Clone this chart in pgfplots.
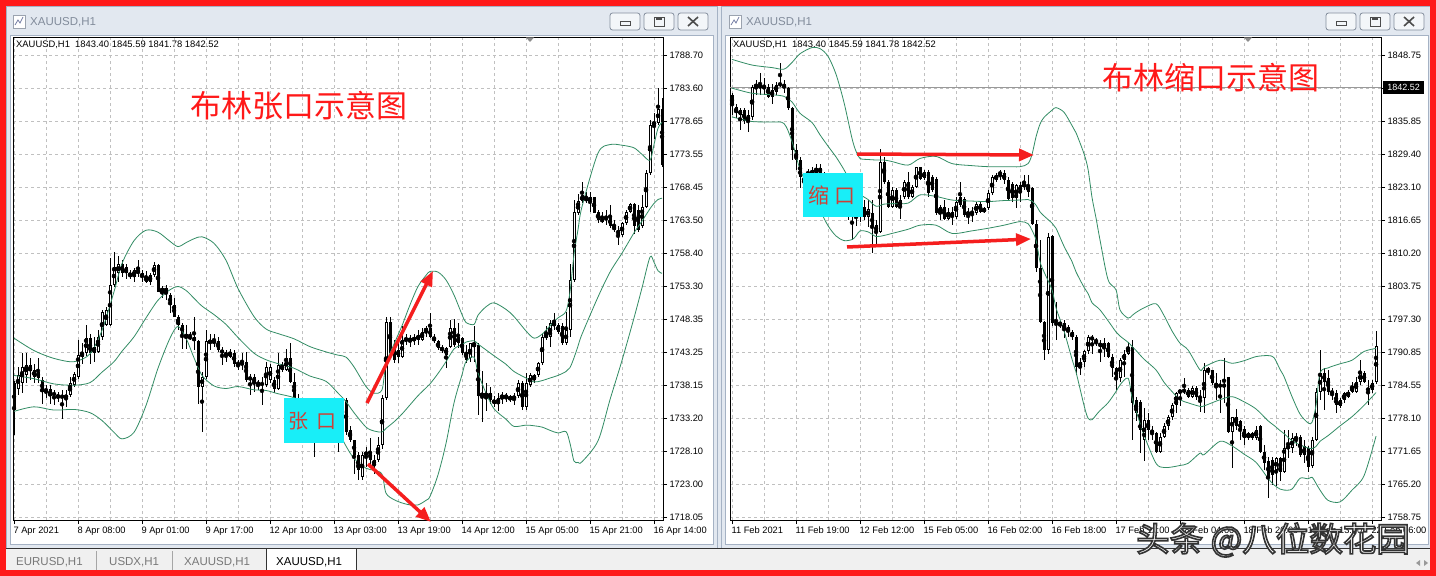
\documentclass[border=0pt]{standalone}
\usepackage{fontspec}
\setmainfont{Liberation Sans}
\newfontfamily\cjk{Noto Sans CJK SC}
\usepackage{pgfplots}
\pgfplotsset{compat=1.18}
\usepackage{pgfplotstable}
\usetikzlibrary{arrows.meta}
\newcommand{\fs}[1]{\fontsize{#1bp}{#1bp}\selectfont}
\definecolor{redb}{RGB}{255,25,25}
\definecolor{titlebg}{RGB}{226,232,240}
\definecolor{winborder}{RGB}{165,178,196}
\definecolor{titletext}{RGB}{130,140,155}
\definecolor{gridgray}{RGB}{192,192,192}
\definecolor{bandgreen}{RGB}{50,140,100}
\definecolor{cyanbox}{RGB}{24,238,248}
\definecolor{boxtext}{RGB}{205,65,55}
\definecolor{arrowred}{RGB}{245,30,30}
\definecolor{tabbg}{RGB}{240,240,240}
\definecolor{tabtext}{RGB}{120,120,120}

\pgfplotstableread{
i o h l c
0 1738.5 1738.8 1730.6 1734.4
1 1737.7 1741.0 1736.7 1739.8
2 1738.5 1743.1 1737.0 1741.0
3 1739.8 1743.1 1738.5 1741.3
4 1741.3 1742.3 1739.0 1740.3
5 1740.5 1741.5 1738.5 1739.5
6 1740.3 1742.3 1738.5 1739.3
7 1739.0 1739.5 1735.4 1737.2
8 1737.7 1738.2 1736.2 1737.2
9 1737.6 1738.2 1735.4 1736.5
10 1737.0 1737.5 1735.2 1736.7
11 1736.3 1737.2 1735.7 1736.7
12 1736.7 1737.5 1733.1 1736.2
13 1736.2 1737.5 1734.9 1736.7
14 1736.7 1739.5 1736.4 1738.5
15 1738.2 1740.3 1738.0 1740.0
16 1739.5 1745.1 1739.2 1742.8
17 1742.6 1744.6 1741.5 1743.1
18 1743.1 1747.4 1742.6 1745.4
19 1745.4 1746.1 1741.5 1743.1
20 1743.1 1745.6 1741.8 1744.1
21 1743.3 1746.6 1743.1 1745.6
22 1745.6 1749.7 1745.1 1749.4
23 1747.4 1750.2 1747.2 1749.7
24 1747.4 1757.6 1747.2 1753.5
25 1753.5 1758.6 1753.3 1756.3
26 1755.3 1757.9 1754.0 1756.8
27 1756.8 1757.3 1754.8 1755.3
28 1756.3 1756.8 1754.5 1755.3
29 1755.3 1755.8 1754.5 1754.8
30 1754.8 1756.1 1754.0 1755.8
31 1755.3 1757.3 1754.8 1755.8
32 1755.3 1755.8 1754.0 1754.8
33 1754.8 1755.6 1753.8 1754.0
34 1754.0 1755.3 1753.5 1755.1
35 1755.1 1757.1 1754.8 1756.6
36 1756.6 1756.8 1752.5 1752.5
37 1752.5 1753.3 1751.5 1753.0
38 1752.5 1753.5 1751.2 1753.0
39 1752.0 1752.3 1749.2 1750.5
40 1750.5 1751.5 1748.7 1748.7
41 1748.7 1748.9 1746.6 1747.4
42 1747.4 1747.7 1743.8 1746.1
43 1746.1 1747.4 1743.8 1745.4
44 1745.6 1746.4 1745.1 1745.4
45 1745.6 1748.7 1743.6 1744.9
46 1744.9 1745.1 1735.4 1738.0
47 1738.0 1740.3 1731.1 1739.5
48 1739.5 1746.6 1739.2 1744.9
49 1744.6 1746.1 1743.6 1745.1
50 1744.6 1746.1 1744.1 1745.1
51 1744.9 1745.6 1743.3 1743.6
52 1743.6 1744.1 1741.3 1743.1
53 1742.8 1743.6 1741.8 1743.1
54 1742.6 1743.8 1742.3 1743.3
55 1743.1 1743.6 1741.0 1741.5
56 1741.6 1742.0 1740.5 1741.4
57 1741.6 1743.1 1740.5 1741.4
58 1741.8 1743.3 1738.7 1739.0
59 1739.5 1740.0 1736.7 1739.0
60 1739.5 1740.0 1737.2 1738.5
61 1738.7 1739.0 1737.5 1738.2
62 1738.6 1739.5 1735.2 1738.2
63 1738.2 1741.8 1737.9 1741.0
64 1739.0 1741.5 1738.5 1741.0
65 1739.0 1739.5 1737.0 1737.7
66 1737.7 1743.1 1737.5 1741.3
67 1740.5 1741.8 1740.3 1741.3
68 1740.5 1743.8 1740.3 1742.3
69 1742.3 1744.6 1738.5 1738.7
70 1738.7 1740.0 1735.9 1736.2
71 1736.2 1736.8 1734.5 1735.0
72 1735.0 1736.0 1734.2 1735.6
73 1735.6 1736.0 1733.5 1734.0
74 1734.0 1734.4 1732.0 1732.6
75 1732.6 1733.8 1727.3 1733.4
76 1733.4 1734.0 1731.8 1732.5
77 1732.5 1734.2 1732.0 1733.6
78 1733.6 1735.0 1733.2 1734.3
79 1734.3 1734.6 1732.6 1733.2
80 1733.2 1733.6 1731.0 1732.0
81 1732.0 1733.5 1728.0 1732.8
82 1732.8 1736.0 1732.5 1735.4
83 1735.9 1736.2 1730.6 1731.0
84 1731.3 1731.9 1729.6 1729.8
85 1729.8 1729.8 1724.7 1727.5
86 1727.5 1728.0 1723.7 1725.2
87 1724.2 1728.0 1723.7 1727.5
88 1727.5 1728.8 1725.7 1728.0
89 1728.0 1730.1 1725.7 1726.8
90 1726.8 1727.5 1724.7 1726.0
91 1726.8 1730.3 1726.5 1729.1
92 1729.1 1736.7 1728.4 1736.2
93 1736.2 1748.7 1735.9 1747.9
94 1747.9 1748.7 1742.8 1743.1
95 1744.1 1745.1 1741.6 1742.1
96 1743.6 1744.6 1741.6 1742.6
97 1742.6 1747.2 1742.3 1745.1
98 1744.9 1746.1 1744.4 1745.4
99 1744.9 1745.9 1744.1 1745.4
100 1744.9 1746.1 1744.4 1745.6
101 1745.1 1746.6 1744.4 1745.9
102 1745.1 1746.9 1744.9 1746.4
103 1746.4 1747.2 1745.6 1746.9
104 1746.9 1749.2 1745.4 1745.6
105 1745.6 1746.1 1744.6 1744.9
106 1744.9 1745.1 1743.6 1743.9
107 1743.9 1744.4 1743.1 1743.6
108 1742.8 1744.1 1740.8 1743.9
109 1744.1 1748.2 1743.9 1746.9
110 1746.9 1748.4 1744.1 1744.4
111 1744.6 1747.7 1743.9 1745.6
112 1745.4 1745.6 1742.8 1743.1
113 1743.3 1744.4 1741.6 1742.1
114 1742.3 1744.6 1741.8 1744.6
115 1744.1 1747.2 1741.8 1744.6
116 1744.4 1744.6 1733.6 1736.5
117 1736.5 1740.3 1732.6 1737.0
118 1736.5 1738.5 1734.2 1737.0
119 1737.0 1738.0 1735.4 1736.0
120 1736.0 1736.5 1734.9 1735.4
121 1736.2 1737.0 1734.2 1735.4
122 1736.2 1737.2 1735.4 1736.7
123 1736.2 1737.0 1735.7 1736.7
124 1736.5 1736.7 1735.7 1736.0
125 1736.0 1737.0 1735.2 1736.6
126 1736.5 1739.0 1736.2 1738.5
127 1738.5 1738.8 1734.4 1734.9
128 1734.9 1740.0 1734.4 1738.5
129 1738.2 1740.0 1738.0 1739.8
130 1739.0 1740.0 1738.5 1739.8
131 1739.8 1741.8 1739.5 1741.6
132 1741.6 1746.1 1741.3 1745.6
133 1745.4 1747.2 1745.1 1746.1
134 1745.6 1748.2 1744.1 1747.7
135 1747.2 1749.2 1746.6 1747.9
136 1747.4 1747.7 1746.1 1746.4
137 1747.2 1747.7 1744.4 1744.6
138 1744.6 1749.4 1744.4 1746.6
139 1746.6 1756.8 1745.6 1754.3
140 1754.3 1766.5 1754.0 1764.75
141 1764.5 1767.5 1764.2 1766.3
142 1766.3 1769.3 1766.0 1767.3
143 1767.0 1767.8 1766.0 1766.3
144 1766.3 1767.8 1764.7 1767.0
145 1767.0 1767.0 1764.5 1764.5
146 1764.7 1765.0 1763.0 1763.5
147 1763.7 1764.7 1763.0 1763.2
148 1763.9 1765.0 1762.7 1763.5
149 1763.9 1765.8 1762.2 1762.5
150 1762.6 1763.5 1761.7 1761.9
151 1762.0 1762.5 1759.6 1761.2
152 1761.2 1763.2 1760.9 1763.0
153 1763.0 1765.0 1762.7 1764.75
154 1764.75 1766.0 1764.5 1765.9
155 1765.9 1766.0 1761.4 1762.5
156 1765.0 1765.8 1761.7 1761.9
157 1762.5 1767.3 1762.2 1765.5
158 1765.5 1771.1 1765.3 1770.6
159 1770.6 1778.8 1770.4 1778.0
160 1778.0 1779.8 1775.9 1778.5
161 1778.3 1783.6 1778.0 1780.5
162 1780.5 1782.1 1771.6 1771.9
}\Ldata

\pgfplotstableread{
i u m lo
0 1745.4 1739.7 1734.2
5 1743.5 1739.2 1734.9
10 1742.3 1738.4 1734.4
15 1741.8 1738.2 1734.5
19 1743.0 1738.6 1734.0
22 1746.6 1740.2 1732.8
25 1752.5 1741.8 1731.0
27 1756.8 1743.4 1730.0
30 1760.3 1745.6 1731.0
33 1761.9 1748.5 1735.1
36 1761.6 1751.2 1740.8
39 1760.2 1752.8 1745.4
41 1759.4 1753.3 1747.2
43 1760.0 1752.7 1745.4
45 1760.6 1751.5 1742.4
47 1760.9 1750.3 1739.7
50 1759.9 1749.0 1738.1
53 1757.3 1747.5 1737.7
56 1753.0 1745.5 1738.0
60 1748.7 1743.1 1737.5
63 1746.8 1742.1 1737.4
66 1746.1 1741.5 1736.9
70 1745.3 1740.8 1736.3
74 1744.1 1739.6 1735.1
78 1743.3 1738.8 1734.3
81 1742.8 1737.0 1731.2
83 1742.5 1735.7 1728.9
85 1741.0 1734.0 1727.0
88 1738.0 1731.8 1725.5
90 1737.0 1731.2 1725.2
92 1737.5 1731.05 1724.6
93 1741.5 1731.6 1721.7
95 1744.5 1732.6 1720.7
97 1747.3 1733.8 1720.2
99 1750.5 1735.2 1719.9
101 1753.3 1736.6 1719.9
103 1755.0 1737.8 1720.6
104 1755.6 1738.4 1721.2
106 1755.5 1740.0 1724.5
108 1754.3 1741.8 1729.3
110 1752.0 1743.75 1735.5
112 1749.0 1744.4 1739.8
113 1747.8 1744.8 1741.8
115 1747.5 1745.0 1742.5
116 1748.9 1744.5 1740.1
118 1750.2 1743.6 1737.0
120 1750.8 1742.7 1734.6
123 1749.8 1741.4 1733.0
125 1748.7 1740.3 1731.9
128 1746.5 1739.3 1732.1
130 1745.4 1738.7 1732.0
132 1746.0 1738.9 1731.8
134 1747.3 1739.3 1731.3
136 1748.5 1739.7 1730.9
138 1749.5 1740.3 1731.1
139 1752.5 1740.9 1729.3
140 1758.2 1742.4 1726.6
141 1762.0 1744.2 1726.4
142 1765.5 1746.0 1726.5
146 1773.7 1751.7 1729.7
149 1775.0 1755.5 1736.0
152 1774.9 1758.4 1742.0
155 1774.5 1761.5 1748.5
157 1773.5 1763.3 1753.1
159 1772.6 1765.2 1757.8
160 1775.0 1766.0 1757.0
161 1777.5 1766.6 1755.7
162 1778.4 1766.8 1755.3
}\Lbb

\pgfplotstableread{
i o h l c
0 1840.95 1841.3 1837.05 1839.0
1 1838.7 1839.3 1836.4 1837.4
2 1838.0 1838.4 1834.1 1837.1
3 1838.0 1838.4 1835.4 1835.8
4 1835.8 1838.0 1833.8 1837.1
5 1836.7 1842.9 1836.1 1842.6
6 1842.6 1843.9 1841.0 1842.9
7 1842.9 1845.2 1841.0 1842.3
8 1842.6 1844.2 1841.0 1842.3
9 1842.6 1843.2 1840.3 1840.6
10 1841.9 1843.2 1839.3 1840.6
11 1841.6 1843.5 1841.0 1842.9
12 1843.2 1847.1 1842.6 1842.9
13 1843.2 1843.9 1841.3 1842.3
14 1842.3 1842.6 1838.0 1838.4
15 1838.4 1838.7 1828.3 1830.2
16 1830.2 1831.5 1826.3 1828.3
17 1828.3 1828.9 1822.8 1825.0
18 1825.0 1825.7 1822.5 1824.0
19 1825.4 1826.6 1824.8 1826.0
20 1825.4 1827.0 1824.9 1826.3
21 1825.7 1827.6 1825.2 1826.7
22 1826.7 1827.6 1825.2 1825.7
23 1825.7 1826.0 1822.8 1823.5
24 1823.5 1824.0 1821.2 1822.0
25 1822.0 1823.8 1821.5 1823.0
26 1823.0 1823.4 1820.0 1820.5
27 1820.5 1821.2 1818.5 1819.0
28 1819.0 1820.6 1818.0 1820.0
29 1820.0 1820.3 1816.6 1817.6
30 1818.5 1819.5 1812.7 1817.2
31 1817.2 1819.0 1815.4 1818.0
32 1817.5 1820.0 1816.3 1819.2
33 1819.2 1820.5 1816.6 1817.2
34 1817.2 1820.5 1815.3 1818.8
35 1817.9 1820.5 1810.1 1815.3
36 1815.6 1816.6 1812.0 1814.3
37 1814.3 1830.5 1814.0 1827.9
38 1827.9 1828.9 1823.7 1824.1
39 1824.1 1824.4 1818.9 1819.2
40 1819.2 1823.1 1818.9 1822.4
41 1822.4 1822.8 1818.9 1819.2
42 1819.2 1821.5 1816.9 1820.5
43 1821.1 1824.4 1820.8 1824.1
44 1824.1 1826.0 1820.8 1821.1
45 1821.1 1823.4 1820.8 1823.1
46 1823.1 1827.0 1822.8 1826.9
47 1826.9 1827.0 1824.4 1824.7
48 1824.7 1826.3 1824.4 1826.0
49 1826.0 1826.3 1821.1 1821.8
50 1825.0 1825.4 1822.1 1822.4
51 1824.7 1825.0 1817.6 1817.9
52 1817.9 1819.5 1816.6 1819.2
53 1819.2 1820.5 1816.6 1816.9
54 1816.9 1818.9 1816.6 1818.2
55 1818.2 1819.2 1815.6 1817.2
56 1817.2 1821.1 1816.9 1820.2
57 1821.1 1824.1 1819.2 1819.5
58 1820.8 1821.1 1817.2 1817.6
59 1817.6 1818.9 1815.9 1818.2
60 1818.2 1819.2 1816.3 1817.9
61 1817.9 1820.2 1817.6 1819.8
62 1819.8 1820.2 1817.9 1818.2
63 1818.2 1819.2 1817.9 1818.9
64 1818.9 1822.4 1818.5 1821.8
65 1821.8 1825.4 1821.5 1825.0
66 1824.4 1825.7 1824.1 1825.4
67 1826.0 1826.3 1824.4 1825.4
68 1825.7 1826.3 1823.7 1824.4
69 1824.4 1825.0 1820.5 1820.8
70 1823.7 1824.1 1820.2 1820.8
71 1820.8 1823.7 1818.9 1823.4
72 1823.4 1824.1 1820.2 1822.1
73 1823.1 1825.4 1822.4 1823.7
74 1823.4 1825.4 1821.1 1822.1
75 1822.8 1823.1 1815.6 1815.9
76 1815.9 1816.6 1806.5 1807.2
77 1807.2 1812.7 1796.5 1796.8
78 1796.8 1797.0 1789.3 1791.3
79 1791.3 1814.0 1790.6 1813.4
80 1813.4 1813.7 1796.0 1796.5
81 1796.5 1800.7 1793.2 1796.3
82 1796.3 1797.0 1795.5 1796.5
83 1796.5 1797.1 1793.6 1795.2
84 1795.8 1796.2 1793.9 1794.9
85 1794.9 1795.2 1793.2 1793.9
86 1793.9 1794.2 1786.4 1788.0
87 1788.0 1789.7 1786.4 1789.0
88 1789.0 1791.3 1788.0 1791.0
89 1791.0 1794.2 1790.6 1793.9
90 1793.9 1794.2 1790.6 1793.2
91 1793.2 1793.6 1792.0 1792.9
92 1792.7 1793.2 1789.0 1791.9
93 1791.9 1793.6 1790.0 1792.6
94 1792.6 1792.9 1789.7 1790.0
95 1790.0 1790.6 1786.1 1787.7
96 1787.7 1788.0 1783.5 1785.8
97 1785.8 1789.7 1785.1 1789.3
98 1789.3 1791.3 1786.1 1790.6
99 1790.6 1792.9 1790.3 1791.9
100 1791.9 1793.2 1773.8 1780.9
101 1781.6 1782.2 1777.4 1779.0
102 1781.2 1781.6 1771.2 1775.7
103 1773.8 1779.9 1769.6 1777.7
104 1777.7 1779.0 1773.8 1775.7
105 1775.7 1776.4 1773.8 1775.1
106 1775.1 1775.4 1771.2 1771.5
107 1771.5 1775.1 1771.2 1774.4
108 1774.4 1777.0 1774.1 1776.4
109 1776.4 1778.6 1775.7 1778.3
110 1778.3 1780.9 1777.7 1780.6
111 1780.6 1783.2 1779.0 1783.0
112 1783.0 1783.5 1780.3 1783.4
113 1783.5 1785.8 1782.8 1783.2
114 1783.5 1783.8 1781.9 1782.2
115 1782.2 1784.2 1781.9 1783.8
116 1783.8 1784.2 1781.6 1782.2
117 1782.2 1783.5 1779.3 1781.9
118 1781.9 1788.7 1779.0 1787.4
119 1787.7 1788.0 1786.4 1787.1
120 1787.4 1787.4 1784.5 1784.8
121 1784.8 1786.8 1781.6 1784.2
122 1784.5 1785.5 1779.0 1784.2
123 1784.5 1789.7 1780.9 1784.2
124 1786.1 1786.1 1775.1 1775.4
125 1775.4 1778.3 1768.3 1778.3
126 1778.3 1779.9 1775.7 1776.4
127 1777.4 1777.7 1773.8 1775.7
128 1776.0 1776.4 1772.8 1774.1
129 1774.1 1775.4 1773.8 1775.1
130 1774.1 1775.4 1773.8 1775.1
131 1774.1 1776.4 1773.8 1775.7
132 1776.4 1776.7 1771.2 1771.5
133 1771.5 1772.8 1767.9 1769.2
134 1769.6 1770.5 1762.4 1766.6
135 1769.9 1770.5 1765.0 1767.0
136 1767.9 1770.5 1764.7 1770.2
137 1770.2 1770.5 1765.7 1767.6
138 1767.6 1775.7 1767.3 1772.2
139 1772.2 1775.7 1770.2 1772.5
140 1772.2 1775.1 1771.2 1774.1
141 1773.8 1775.1 1772.5 1774.4
142 1774.4 1774.8 1770.5 1770.9
143 1772.5 1773.8 1769.2 1770.9
144 1772.2 1772.5 1767.6 1768.6
145 1768.6 1774.4 1768.3 1773.8
146 1773.8 1783.8 1773.5 1783.2
147 1783.2 1791.3 1781.6 1786.8
148 1786.8 1787.7 1779.6 1785.1
149 1785.8 1787.4 1782.6 1783.2
150 1783.2 1783.8 1781.6 1782.9
151 1783.0 1783.5 1779.0 1780.6
152 1780.3 1781.9 1779.9 1781.6
153 1781.6 1783.2 1780.9 1782.9
154 1782.2 1783.5 1781.9 1783.2
155 1783.2 1785.1 1782.9 1784.2
156 1783.2 1786.1 1782.9 1785.1
157 1785.1 1789.3 1784.5 1786.8
158 1786.8 1787.1 1784.8 1785.1
159 1783.8 1785.5 1780.6 1783.4
160 1783.5 1785.5 1782.9 1784.8
161 1785.0 1794.9 1784.6 1792.0
}\Rdata

\pgfplotstableread{
i u m lo
0 1847.9 1842.3 1836.7
5 1846.8 1841.3 1835.8
10 1846.3 1841.0 1835.7
13 1846.0 1840.7 1835.4
15 1847.3 1839.6 1831.9
17 1849.0 1837.4 1826.5
20 1850.2 1835.6 1821.5
22 1850.0 1833.2 1818.5
24 1848.5 1831.0 1815.5
26 1845.0 1828.9 1813.5
28 1839.5 1826.4 1812.6
30 1832.5 1823.5 1812.8
31 1830.0 1822.6 1813.5
32 1828.6 1821.6 1814.5
34 1828.4 1820.6 1814.3
36 1828.3 1819.3 1813.4
38 1828.3 1819.7 1813.6
40 1828.0 1819.8 1814.0
44 1827.3 1819.9 1814.8
47 1828.6 1821.5 1815.6
51 1829.0 1821.2 1815.6
55 1827.6 1820.5 1814.0
60 1827.2 1820.3 1814.5
64 1827.0 1820.2 1815.0
68 1827.0 1820.4 1815.6
72 1827.0 1820.5 1816.3
74 1827.6 1820.6 1815.9
75 1829.4 1820.3 1814.6
76 1832.8 1819.5 1812.7
77 1835.3 1818.2 1808.5
78 1836.6 1817.4 1806.5
80 1838.0 1816.0 1803.0
81 1838.5 1815.0 1799.5
83 1837.6 1811.5 1795.0
85 1835.0 1808.5 1789.5
86 1833.6 1806.5 1787.0
88 1829.5 1803.5 1780.5
89 1826.5 1802.3 1778.0
90 1821.0 1800.5 1777.7
91 1817.0 1799.8 1778.6
92 1812.7 1799.1 1779.5
94 1805.0 1797.0 1781.0
96 1803.0 1794.8 1783.2
97 1799.1 1794.0 1784.5
99 1797.5 1792.8 1785.8
100 1798.0 1792.0 1782.0
101 1798.6 1791.2 1779.5
103 1799.5 1789.5 1774.7
106 1800.3 1787.4 1769.2
108 1798.0 1785.0 1768.4
110 1795.0 1783.2 1768.5
112 1792.6 1781.6 1768.8
114 1791.3 1781.0 1769.2
117 1787.4 1780.3 1771.2
118 1788.0 1780.4 1770.9
122 1789.3 1781.6 1773.5
125 1788.7 1782.2 1772.6
128 1789.2 1781.2 1771.0
131 1790.0 1779.8 1769.4
134 1790.2 1777.5 1766.3
135.5 1789.8 1776.6 1765.0
137 1787.5 1775.6 1764.2
138 1786.1 1775.0 1764.0
140 1782.2 1773.6 1764.2
142 1778.8 1772.8 1766.3
144 1777.1 1772.2 1766.2
145 1777.2 1772.1 1766.5
146 1780.5 1772.5 1765.3
147 1786.8 1773.5 1764.0
149 1787.8 1774.6 1762.0
152 1788.6 1776.5 1761.7
155 1789.3 1778.3 1764.0
158 1791.0 1780.5 1766.8
161 1791.6 1783.0 1774.5
}\Rbb

\pgfplotsset{mtchart/.style={
  scale only axis, height=483bp,
  axis line style={black, line width=0.8bp},
  tick align=outside, xtick pos=left, ytick pos=right,
  xticklabel pos=left, yticklabel pos=right,
  major tick length=4bp, minor tick length=0bp,
  tick style={black, line width=0.8bp},
  grid=both,
  major grid style={draw=gridgray, dash pattern=on 3bp off 3bp, line width=0.6bp},
  minor grid style={draw=gridgray, dash pattern=on 3bp off 3bp, line width=0.6bp},
  xtick={0,16,...,160}, minor xtick={8,24,...,152},
  xticklabel style={anchor=north west, xshift=-4bp, yshift=1bp, font=\fs{9.3}},
  yticklabel style={anchor=west, xshift=-1bp, font=\fs{9.3}},
  /pgf/number format/assume math mode=true,
}}
% candle macro: #1 table, #2 one pixel in price units
\newcommand{\candles}[2]{%
  \addplot[only marks, mark=none, forget plot,
    error bars/.cd, y dir=both, y explicit, error mark=none,
    error bar style={draw=black, line width=1bp}]
    table[x=i, y expr={(\thisrow{h}+\thisrow{l})/2}, y error expr={(\thisrow{h}-\thisrow{l})/2}] {#1};
  \addplot[only marks, mark=none, forget plot,
    restrict expr to domain={\thisrow{o}-\thisrow{c}}{0.0001:1000},
    error bars/.cd, y dir=both, y explicit, error mark=none,
    error bar style={draw=black, line width=3bp}]
    table[x=i, y expr={(\thisrow{o}+\thisrow{c})/2}, y error expr={max((\thisrow{o}-\thisrow{c})/2,#2/2)}] {#1};
  \addplot[only marks, mark=none, forget plot,
    restrict expr to domain={\thisrow{c}-\thisrow{o}}{0:1000},
    error bars/.cd, y dir=both, y explicit, error mark=none,
    error bar style={draw=black, line width=3bp}]
    table[x=i, y expr={(\thisrow{o}+\thisrow{c})/2}, y error expr={max((\thisrow{c}-\thisrow{o})/2,#2/2)}] {#1};
  \addplot[only marks, mark=none, forget plot,
    restrict expr to domain={\thisrow{c}-\thisrow{o}}{0:1000},
    error bars/.cd, y dir=both, y explicit, error mark=none,
    error bar style={draw=white, line width=1bp}]
    table[x=i, y expr={(\thisrow{o}+\thisrow{c})/2}, y error expr={max((\thisrow{c}-\thisrow{o})/2-#2,0)}] {#1};
}
\newcommand{\bands}[1]{%
  \addplot[bandgreen, line width=0.8bp, smooth, tension=0.5, mark=none] table[x=i, y=u] {#1};
  \addplot[bandgreen, line width=0.8bp, smooth, tension=0.5, mark=none] table[x=i, y=m] {#1};
  \addplot[bandgreen, line width=0.8bp, smooth, tension=0.5, mark=none] table[x=i, y=lo] {#1};
}

\begin{document}
\begin{tikzpicture}
% ---------- window chrome ----------
\begin{scope}[x=1bp,y=-1bp]
\fill[titlebg] (0,0) rectangle (1436,576);
% left window
\filldraw[fill=titlebg, draw=winborder, line width=1bp] (6,7) rectangle (717,548);
\fill[white] (10,35) rectangle (713,544);
\draw[winborder] (10,35) rectangle (713,544);
% right window
\filldraw[fill=titlebg, draw=winborder, line width=1bp] (721,7) rectangle (1432,548);
\fill[white] (725,35) rectangle (1428,544);
\draw[winborder] (725,35) rectangle (1428,544);
% title texts and icons
\foreach \dx in {0,716}{
  \begin{scope}[xshift=\dx bp]
  \filldraw[fill=white, draw=titletext!80, line width=0.7bp] (13,15) rectangle (25,28);
  \draw[titletext!90!blue, line width=0.8bp] (15,25) -- (18,20) -- (20,23) -- (23,17);
  \node[anchor=west, text=titletext, font=\fs{11.5}, inner sep=0] at (30,22) {XAUUSD,H1};
  \foreach \bx in {610,644,678}{
    \filldraw[fill=white!60!titlebg, draw=winborder!80!black, rounded corners=2.5bp, line width=0.8bp] (\bx,13) rectangle ++(30,17);
  }
  \draw[black!70, line width=0.8bp] (620,21) rectangle (630,25);
  \draw[black!70, line width=0.8bp] (654,17) rectangle (664,26);
  \draw[black!70, line width=1.2bp] (656,19) -- (662,19);
  \draw[black!70, line width=1.6bp] (688,17) -- (698,26) (698,17) -- (688,26);
  \end{scope}
}
% header text (left)
\node[anchor=west, font=\fs{9.4}, inner sep=0] at (16,45) {XAUUSD,H1\ \ 1843.40 1845.59 1841.78 1842.52};
% tab bar
\fill[tabbg] (5,548) rectangle (1431,571);
\draw[black!80, line width=1.2bp] (5,548.5) -- (1431,548.5);
\draw[black!35, line width=0.8bp] (96.5,551) -- (96.5,570) (172,551) -- (172,570);
\filldraw[fill=white, draw=black!80, line width=0.9bp] (266,548.5) -- (266,570.5) -- (356,570.5) -- (356,548.5);
\node[anchor=west, text=tabtext, font=\fs{11.5}, inner sep=0] at (16,562) {EURUSD,H1};
\node[anchor=west, text=tabtext, font=\fs{11.5}, inner sep=0] at (109,562) {USDX,H1};
\node[anchor=west, text=tabtext, font=\fs{11.5}, inner sep=0] at (184,562) {XAUUSD,H1};
\node[anchor=west, text=black, font=\fs{11.5}, inner sep=0] at (276,562) {XAUUSD,H1};
\fill[black!40] (1416,563) -- (1420,560) -- (1420,566) -- cycle;
\fill[black!40] (1428,563) -- (1424,560) -- (1424,566) -- cycle;
\end{scope}

% ---------- left chart ----------
\begin{axis}[mtchart, at={(13bp,-520bp)}, anchor=south west, width=650bp,
  xmin=-0.25, xmax=162.25, ymin=1717.59, ymax=1791.45,
  xticklabels={7 Apr 2021,8 Apr 08:00,9 Apr 01:00,9 Apr 17:00,12 Apr 10:00,13 Apr 03:00,13 Apr 19:00,14 Apr 12:00,15 Apr 05:00,15 Apr 21:00,16 Apr 14:00},
  ytick={1788.70,1783.654,1778.607,1773.561,1768.514,1763.468,1758.422,1753.375,1748.329,1743.282,1738.236,1733.190,1728.143,1723.097,1718.05},
  yticklabels={1788.70,1783.60,1778.65,1773.55,1768.45,1763.50,1758.40,1753.30,1748.35,1743.25,1738.15,1733.20,1728.10,1723.00,1718.05},
]
\candles{\Ldata}{0.153}
\bands{\Lbb}
\end{axis}

% ---------- right chart ----------
\begin{axis}[mtchart, at={(730bp,-520bp)}, anchor=south west, width=651bp,
  xmin=-0.5, xmax=162.25, ymin=1758.17, ymax=1852.26,
  xticklabels={11 Feb 2021,11 Feb 19:00,12 Feb 12:00,15 Feb 05:00,16 Feb 02:00,16 Feb 18:00,17 Feb 11:00,18 Feb 04:00,18 Feb 20:00,19 Feb 13:00,22 Feb 06:00},
  ytick={1848.75,1842.321,1835.893,1829.464,1823.036,1816.607,1810.179,1803.750,1797.321,1790.893,1784.464,1778.036,1771.607,1765.179,1758.75},
  yticklabels={1848.75,{},1835.85,1829.40,1823.10,1816.65,1810.20,1803.75,1797.30,1790.85,1784.55,1778.10,1771.65,1765.20,1758.75},
]
\addplot[black!40, line width=0.8bp, mark=none, forget plot] coordinates {(-0.5,1842.52) (162.25,1842.52)};
\candles{\Rdata}{0.195}
\bands{\Rbb}
\end{axis}

% ---------- overlays ----------
\begin{scope}[x=1bp,y=-1bp]
\node[anchor=west, font=\fs{9.4}, inner sep=0] at (733,45) {XAUUSD,H1\ \ 1843.40 1845.59 1841.78 1842.52};
\fill[black!45] (526,37.5) -- (534,37.5) -- (530,42) -- cycle;
\fill[black!45] (1244,37.5) -- (1252,37.5) -- (1248,42) -- cycle;
\fill[black] (1383,81) rectangle (1424,94);
\node[text=white, font=\fs{9}, inner sep=0] at (1403.5,87.5) {1842.52};
% titles
\node[text=redb, font=\cjk\fs{31}, inner sep=0] at (299,106) {布林张口示意图};
\node[text=redb, font=\cjk\fs{31}, inner sep=0] at (1211,78) {布林缩口示意图};
% boxes
\fill[cyanbox] (284,398) rectangle (344,443);
\node[text=boxtext, font=\cjk\fs{20}, inner sep=0] at (312,421) {张\hspace{8bp}口};
\fill[cyanbox] (803,173) rectangle (863,217);
\node[text=boxtext, font=\cjk\fs{21}, inner sep=0] at (832,195) {缩\hspace{6bp}口};
% arrows
\draw[arrowred, line width=3.5bp, -{Triangle[length=15bp,width=12bp]}] (367,403) -- (433,271);
\draw[arrowred, line width=3.5bp, -{Triangle[length=15bp,width=12bp]}] (368,464) -- (431,522);
\draw[arrowred, line width=3.5bp, -{Triangle[length=15bp,width=12bp]}] (857,154) -- (1034,155);
\draw[arrowred, line width=3.5bp, -{Triangle[length=15bp,width=12bp]}] (847,247) -- (1031,239);
% watermark: white text stroked with dark outline
\node[text=white, font=\cjk\fs{33.5}, inner sep=0] at (1273,540) {\special{pdf:literal direct 0.2 0.2 0.2 RG 1.6 w 2 Tr}头条 @八位数花园\special{pdf:literal direct 0 Tr}};
% red border
\draw[redb, line width=6bp] (3,3) rectangle (1433,573);
\end{scope}
\end{tikzpicture}
\end{document}
